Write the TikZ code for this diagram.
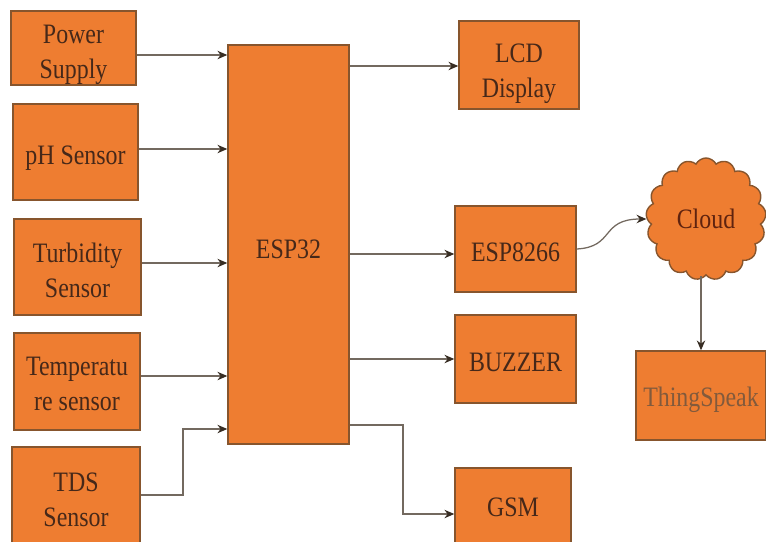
\documentclass[tikz,border=0pt]{standalone}
\usepackage{fontspec}
\setmainfont[FakeStretch=0.85]{Liberation Serif}
\usepackage{tikz}
\usetikzlibrary{arrows.meta,shapes.symbols}
\definecolor{boxfill}{RGB}{238,125,49}
\definecolor{boxline}{RGB}{135,85,45}
\definecolor{wireline}{RGB}{115,105,95}
\definecolor{tipdark}{RGB}{55,45,35}
\definecolor{labeltext}{RGB}{70,40,25}
\newcommand{\toppad}[1]{\rule{0pt}{14pt}\\[#1]}
\tikzset{
  blockbox/.style={draw=boxline,fill=boxfill,line width=1pt,inner sep=0pt,align=center,text=labeltext,font=\fontsize{20}{25}\selectfont},
  pushdown/.style={execute at begin node={\rule{0pt}{#1}}},
  wire/.style={-{Stealth[length=7pt,width=6pt,color=tipdark]},wireline,line width=0.9pt}
}
\begin{document}
\begin{tikzpicture}[x=0.025cm,y=-0.025cm]
    \useasboundingbox (0,0) rectangle (766,541);
    \begin{scope}
    \clip (0,0) rectangle (766,541);
    \node[blockbox,minimum width=3.125cm,minimum height=1.85cm] (power) at (73.5,48) {\toppad{-16.5pt}Power\\Supply};
    \node[blockbox,pushdown=22.2pt,minimum width=3.125cm,minimum height=2.4cm] (ph) at (75.5,152) {pH Sensor};
    \node[blockbox,minimum width=3.175cm,minimum height=2.4cm] (turb) at (77.5,267) {\toppad{-20.7pt}Turbidity\\Sensor};
    \node[blockbox,minimum width=3.15cm,minimum height=2.425cm] (temp) at (77,381.5) {\toppad{-22.2pt}Temperatu\\re sensor};
    \node[blockbox,minimum width=3.2cm,minimum height=2.625cm] (tds) at (76,499.5) {TDS\\Sensor};
    \node[blockbox,minimum width=3.025cm,minimum height=9.975cm] (esp) at (288.5,244.5) {};
    \node[blockbox,draw=none,fill=none] (esplabel) at (288.5,249) {ESP32};
    \node[blockbox,minimum width=3cm,minimum height=2.2cm] (lcd) at (519,65) {\toppad{-13.6pt}LCD\\Display};
    \node[blockbox,pushdown=18pt,minimum width=3.025cm,minimum height=2.15cm] (wifi) at (515.5,249) {ESP8266};
    \node[blockbox,pushdown=18pt,minimum width=3.025cm,minimum height=2.2cm] (buzzer) at (515.5,359) {BUZZER};
    \node[blockbox,minimum width=2.9cm,minimum height=1.975cm] (gsm) at (513,507.5) {GSM};
    \node[blockbox,cloud,cloud puffs=17,cloud puff arc=125,aspect=1,minimum width=3cm,minimum height=3.05cm,text={rgb,255:red,95;green,35;blue,15}] (cloud) at (706,219) {Cloud};
    \node[blockbox,pushdown=19.4pt,minimum width=3.25cm,minimum height=2.225cm,text={rgb,255:red,130;green,90;blue,60}] (thing) at (701,395.5) {ThingSpeak};
    \end{scope}

    \draw [wire] (power.east |- 0,55) -- (esp.west |- 0,55);
    \draw [wire] (ph.east |- 0,149) -- (esp.west |- 0,149);
    \draw [wire] (turb.east |- 0,263) -- (esp.west |- 0,263);
    \draw [wire] (temp.east |- 0,376) -- (esp.west |- 0,376);
    \draw [wire] (tds.east |- 0,495) -- (183,495) -- (183,429) -- (esp.west |- 0,429);
    \draw [wire] (esp.east |- 0,66) -- (lcd.west |- 0,66);
    \draw [wire] (esp.east |- 0,254) -- (wifi.west |- 0,254);
    \draw [wire] (esp.east |- buzzer.west) -- (buzzer.west);
    \draw [wire] (esp.east |- 0,425) -- (403,425) -- (403,514) -- (gsm.west |- 0,514);
    \draw [wire] (wifi.east) .. controls (615,247) and (600,219) .. (cloud.west);
    \draw [wire] (cloud.south -| thing.north) -- (thing.north);
\end{tikzpicture}
\end{document}
